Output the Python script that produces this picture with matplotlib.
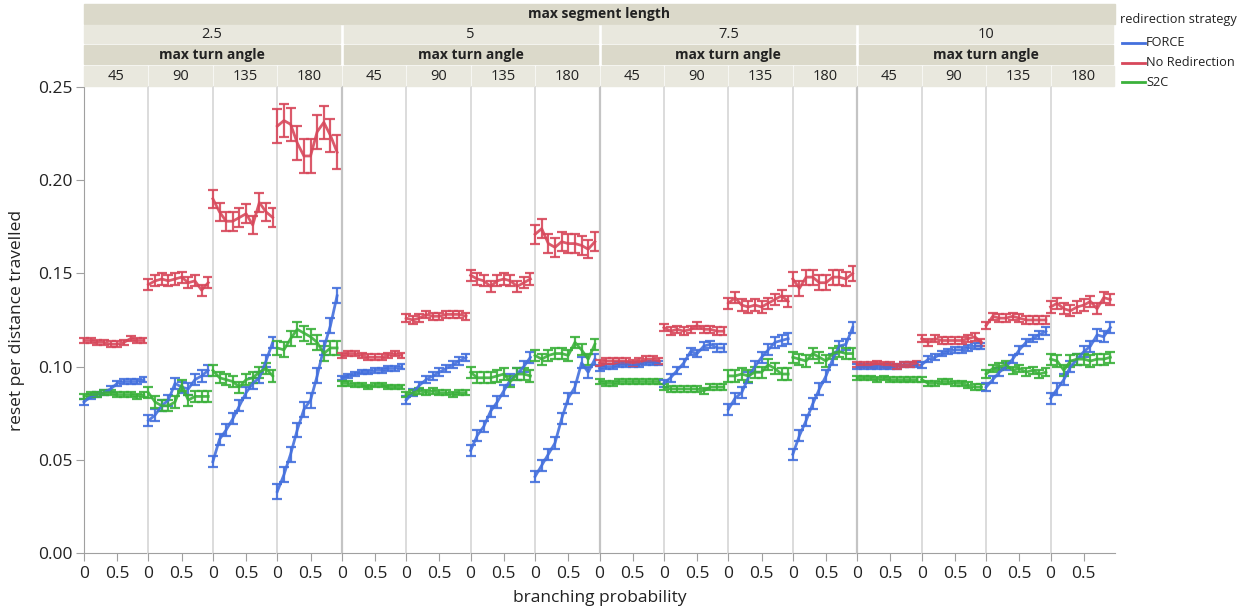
import numpy as np
import matplotlib.pyplot as plt
from matplotlib.patches import Rectangle

plt.rcParams['font.family'] = ['Open Sans', 'DejaVu Sans']

################################## DATA ##################################

seg_lengths = ['2.5', '5', '7.5', '10']
turn_angles = ['45', '90', '135', '180']
branching = [0.0, 0.1, 0.2, 0.3, 0.4, 0.5, 0.6, 0.7, 0.8, 0.9]

# one row per turn angle (45, 90, 135, 180)
force_25 = [[0.081, 0.084, 0.085, 0.086, 0.088, 0.091, 0.092, 0.092, 0.092, 0.093],
            [0.071, 0.074, 0.079, 0.082, 0.091, 0.089, 0.088, 0.093, 0.095, 0.098],
            [0.049, 0.061, 0.066, 0.072, 0.079, 0.086, 0.091, 0.094, 0.103, 0.113],
            [0.033, 0.042, 0.053, 0.066, 0.077, 0.082, 0.095, 0.110, 0.122, 0.138]]
force_5 = [[0.094, 0.095, 0.096, 0.097, 0.097, 0.098, 0.098, 0.099, 0.099, 0.100],
           [0.082, 0.086, 0.090, 0.093, 0.095, 0.097, 0.099, 0.101, 0.103, 0.105],
           [0.055, 0.063, 0.068, 0.076, 0.081, 0.087, 0.093, 0.096, 0.100, 0.105],
           [0.041, 0.047, 0.053, 0.059, 0.072, 0.083, 0.089, 0.102, 0.097, 0.104]]
force_75 = [[0.099, 0.100, 0.100, 0.101, 0.101, 0.101, 0.101, 0.102, 0.102, 0.102],
            [0.091, 0.094, 0.098, 0.102, 0.108, 0.107, 0.111, 0.112, 0.110, 0.110],
            [0.077, 0.083, 0.086, 0.094, 0.100, 0.105, 0.109, 0.113, 0.114, 0.115],
            [0.053, 0.063, 0.071, 0.080, 0.088, 0.095, 0.104, 0.111, 0.112, 0.121]]
force_10 = [[0.100, 0.100, 0.100, 0.100, 0.100, 0.100, 0.100, 0.101, 0.101, 0.101],
            [0.101, 0.104, 0.105, 0.107, 0.108, 0.109, 0.109, 0.110, 0.111, 0.111],
            [0.089, 0.093, 0.097, 0.100, 0.104, 0.109, 0.113, 0.115, 0.117, 0.119],
            [0.083, 0.088, 0.093, 0.100, 0.104, 0.108, 0.111, 0.117, 0.116, 0.121]]

nored_25 = [[0.114, 0.114, 0.113, 0.113, 0.112, 0.112, 0.113, 0.115, 0.114, 0.114],
            [0.144, 0.146, 0.147, 0.146, 0.147, 0.148, 0.145, 0.146, 0.141, 0.145],
            [0.190, 0.183, 0.178, 0.178, 0.180, 0.182, 0.176, 0.188, 0.183, 0.180],
            [0.229, 0.232, 0.230, 0.220, 0.213, 0.213, 0.226, 0.231, 0.224, 0.215]]
nored_5 = [[0.106, 0.107, 0.107, 0.106, 0.105, 0.105, 0.105, 0.106, 0.107, 0.106],
           [0.126, 0.125, 0.126, 0.128, 0.127, 0.127, 0.128, 0.128, 0.128, 0.127],
           [0.149, 0.147, 0.146, 0.143, 0.146, 0.147, 0.146, 0.143, 0.145, 0.147],
           [0.171, 0.174, 0.166, 0.164, 0.167, 0.166, 0.166, 0.165, 0.163, 0.167]]
nored_75 = [[0.102, 0.103, 0.103, 0.103, 0.103, 0.102, 0.103, 0.104, 0.104, 0.103],
            [0.121, 0.119, 0.120, 0.119, 0.120, 0.122, 0.120, 0.120, 0.119, 0.119],
            [0.134, 0.137, 0.133, 0.132, 0.133, 0.132, 0.134, 0.136, 0.138, 0.135],
            [0.147, 0.142, 0.148, 0.148, 0.145, 0.145, 0.148, 0.148, 0.147, 0.150]]
nored_10 = [[0.101, 0.101, 0.101, 0.102, 0.101, 0.101, 0.100, 0.101, 0.101, 0.102],
            [0.115, 0.113, 0.115, 0.114, 0.114, 0.114, 0.114, 0.115, 0.116, 0.113],
            [0.122, 0.127, 0.126, 0.126, 0.127, 0.126, 0.125, 0.125, 0.125, 0.125],
            [0.132, 0.134, 0.131, 0.130, 0.132, 0.133, 0.135, 0.131, 0.137, 0.136]]

s2c_25 = [[0.084, 0.085, 0.085, 0.086, 0.086, 0.085, 0.085, 0.085, 0.084, 0.085],
          [0.086, 0.081, 0.079, 0.079, 0.081, 0.090, 0.082, 0.084, 0.084, 0.084],
          [0.098, 0.094, 0.093, 0.092, 0.089, 0.093, 0.094, 0.097, 0.099, 0.095],
          [0.110, 0.109, 0.115, 0.120, 0.118, 0.116, 0.113, 0.107, 0.110, 0.110]]
s2c_5 = [[0.091, 0.091, 0.090, 0.090, 0.089, 0.090, 0.090, 0.089, 0.089, 0.089],
         [0.085, 0.086, 0.087, 0.086, 0.087, 0.086, 0.086, 0.085, 0.086, 0.086],
         [0.097, 0.094, 0.094, 0.094, 0.095, 0.096, 0.092, 0.096, 0.096, 0.095],
         [0.106, 0.104, 0.106, 0.107, 0.107, 0.106, 0.113, 0.109, 0.104, 0.112]]
s2c_75 = [[0.092, 0.091, 0.091, 0.092, 0.092, 0.092, 0.092, 0.092, 0.092, 0.092],
          [0.089, 0.088, 0.088, 0.088, 0.088, 0.088, 0.087, 0.089, 0.089, 0.089],
          [0.095, 0.095, 0.096, 0.095, 0.097, 0.097, 0.101, 0.099, 0.096, 0.096],
          [0.105, 0.104, 0.103, 0.107, 0.105, 0.103, 0.107, 0.108, 0.107, 0.107]]
s2c_10 = [[0.094, 0.094, 0.094, 0.093, 0.094, 0.093, 0.093, 0.093, 0.093, 0.093],
          [0.093, 0.091, 0.091, 0.092, 0.092, 0.091, 0.091, 0.090, 0.089, 0.089],
          [0.096, 0.099, 0.100, 0.101, 0.098, 0.099, 0.097, 0.098, 0.096, 0.097],
          [0.104, 0.103, 0.098, 0.103, 0.104, 0.104, 0.103, 0.104, 0.104, 0.105]]

# error bar half widths, one per panel (segment length major, turn angle minor)
force_err = [0.0015, 0.003, 0.003, 0.004, 0.0012, 0.002, 0.003, 0.003,
             0.0012, 0.002, 0.003, 0.003, 0.0012, 0.0015, 0.002, 0.003]
nored_err = [0.0015, 0.003, 0.005, 0.009, 0.0015, 0.002, 0.003, 0.005,
             0.0015, 0.002, 0.003, 0.004, 0.0012, 0.002, 0.002, 0.003]
s2c_err = [0.0015, 0.003, 0.003, 0.004, 0.0012, 0.0015, 0.003, 0.003,
           0.0012, 0.0015, 0.003, 0.003, 0.0012, 0.0015, 0.002, 0.003]

series = [('FORCE', '#4470dd', [force_25, force_5, force_75, force_10], force_err),
          ('No Redirection', '#d7485b', [nored_25, nored_5, nored_75, nored_10], nored_err),
          ('S2C', '#3bb13b', [s2c_25, s2c_5, s2c_75, s2c_10], s2c_err)]

################################## LAYOUT ##################################

W, H = 1250, 612
fig = plt.figure(figsize=(W / 100, H / 100), dpi=100)

def fx(px):
    return px / W

def fy(py):
    return 1 - py / H

left, right, top, bottom = 84, 1115, 87, 553
pw = (right - left) / 16
dark_strip = '#dbd9ca'
light_strip = '#e9e8de'

axes = []
for g in range(4):
    for a in range(4):
        i = g * 4 + a
        ax = fig.add_axes([fx(left + i * pw), fy(bottom), pw / W, (bottom - top) / H])
        ax.set_xlim(0, 0.97)
        ax.set_ylim(0, 0.25)
        for s in ['top', 'right']:
            ax.spines[s].set_visible(False)
        ax.spines['bottom'].set_color('#a0a0a0')
        if i == 0:
            ax.spines['left'].set_color('#a0a0a0')
        elif a == 0:
            ax.spines['left'].set_color('#c4c4c4')
            ax.spines['left'].set_linewidth(1.6)
        else:
            ax.spines['left'].set_color('#dcdcdc')
            ax.spines['left'].set_linewidth(1.4)
        ax.set_xticks([0, 0.5])
        ax.set_xticklabels(['0', '0.5'])
        ax.tick_params(axis='x', length=6, color='#a0a0a0', labelsize=12.5,
                       labelcolor='#222222', pad=3)
        if i == 0:
            ax.set_yticks([0, 0.05, 0.1, 0.15, 0.2, 0.25])
            ax.set_yticklabels(['0.00', '0.05', '0.10', '0.15', '0.20', '0.25'])
            ax.tick_params(axis='y', length=6, color='#a0a0a0', labelsize=12.5,
                           labelcolor='#222222', pad=2)
        else:
            ax.tick_params(axis='y', left=False, labelleft=False)
        for name, color, data, err in series:
            ax.errorbar(branching, data[g][a], yerr=err[i], color=color, lw=2,
                        elinewidth=1.6, capsize=3.5, capthick=1.6, alpha=0.9,
                        clip_on=False, zorder=3)
        axes.append(ax)

################################## HEADERS ##################################

def strip(x0, x1, y0, y1, color, text, bold=False):
    fig.patches.append(Rectangle((fx(x0), fy(y1)), (x1 - x0) / W, (y1 - y0) / H,
                                 transform=fig.transFigure, color=color, zorder=0))
    fig.text(fx((x0 + x1) / 2), fy((y0 + y1) / 2), text, ha='center', va='center',
             fontsize=10 if bold else 10.5, color='#222222',
             fontweight='bold' if bold else 'normal')

strip(left, right, 4, 24, dark_strip, 'max segment length', bold=True)
for g in range(4):
    gx0 = left + g * 4 * pw + (2 if g > 0 else 0)
    gx1 = left + (g + 1) * 4 * pw - 2
    strip(gx0, gx1, 25, 43, light_strip, seg_lengths[g])
    strip(gx0, gx1, 45, 64, dark_strip, 'max turn angle', bold=True)
    for a in range(4):
        cx0 = left + (g * 4 + a) * pw + (1 if (g * 4 + a) > 0 else 0)
        cx1 = left + (g * 4 + a + 1) * pw - 1
        strip(cx0, cx1, 66, 86, light_strip, turn_angles[a])

################################## LEGEND & LABELS ##################################

fig.text(fx(1120), fy(20), 'redirection strategy', fontsize=9.2, color='#222222',
         va='center', ha='left')
for k, (name, color, data, err) in enumerate(series):
    yy = fy(43 + k * 19.5)
    fig.add_artist(plt.Line2D([fx(1122), fx(1145)], [yy, yy], color=color, lw=2,
                              transform=fig.transFigure))
    fig.text(fx(1146), yy, name, fontsize=9.2, color='#222222', va='center', ha='left')

fig.text(fx(17), fy((top + bottom) / 2), 'reset per distance travelled', rotation=90,
         fontsize=12.5, color='#222222', ha='center', va='center')
fig.text(fx(600), fy(598), 'branching probability', fontsize=12.5, color='#222222',
         ha='center', va='center')

plt.savefig('out.png', dpi=100)
